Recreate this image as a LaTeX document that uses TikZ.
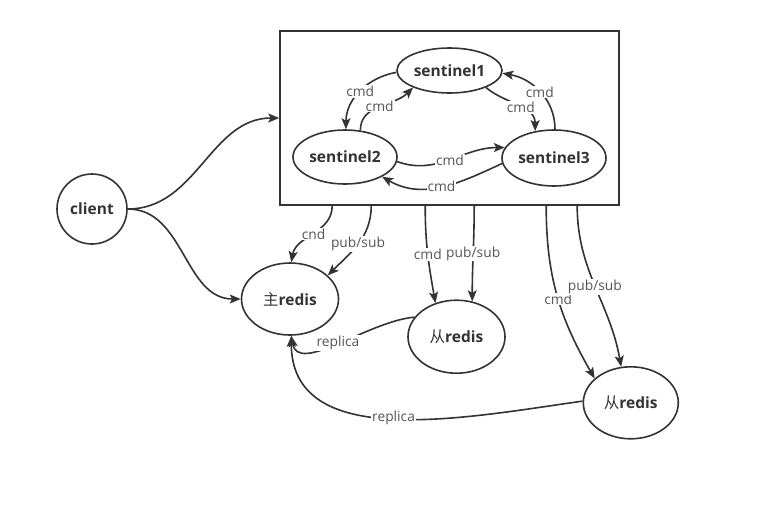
\documentclass[tikz,border=0pt]{standalone}
\usepackage{fontspec}
\setmainfont{Open Sans}
\newfontfamily\cjk{Noto Sans CJK SC}
\usetikzlibrary{arrows.meta,shapes.geometric,calc}
\definecolor{lc}{HTML}{333333}
\definecolor{labc}{HTML}{555555}
\begin{document}
\begin{tikzpicture}[x=1pt,y=1pt,
  ar/.style={draw=lc, line width=1.6pt, -{Stealth[length=11pt,width=9pt,inset=2.5pt]}},
  lab/.style={fill=white, text=labc, font=\fontsize{13.8}{15}\selectfont, inner sep=1pt},
  el/.style={ellipse, draw=lc, line width=1.6pt, inner sep=0pt, text=lc,
             font=\fontsize{15.5}{18}\selectfont\bfseries},
  frame/.style={draw=lc, line width=1.6pt, inner sep=0pt}]
\useasboundingbox (0,0) rectangle (771,-515);
\fill[white] (0,0) rectangle (771,-515);

\node[frame, minimum width=339pt, minimum height=174pt] (box) at (449.5,-118) {};
\node[el, minimum width=105pt, minimum height=45pt] (s1) at (449.5,-70.5) {sentinel1};
\node[el, minimum width=104pt, minimum height=54pt] (s2) at (345,-157) {sentinel2};
\node[el, minimum width=104pt, minimum height=56pt] (s3) at (554,-158) {sentinel3};
\node[el, circle, minimum size=70pt] (client) at (92,-209) {client};
\node[el, minimum width=97pt, minimum height=72pt] (mr) at (290,-299) {{\cjk\mdseries 主}redis};
\node[el, minimum width=97pt, minimum height=73pt] (r1) at (456.5,-336.7) {{\cjk\mdseries 从}redis};
\node[el, minimum width=95pt, minimum height=72pt] (r2) at (630.8,-402.8) {{\cjk\mdseries 从}redis};

\draw[ar] (client.east) to[out=0,in=180] (box.west);
\draw[ar] (client.east) to[out=0,in=180] (mr.west);

\draw[ar] (s1.182) to[out=190,in=90] node[lab]{cmd} (s2.88);
\draw[ar] (s2.60) to[out=90,in=225] node[lab]{cmd} (s1.205);
\draw[ar] (s1.-25) to[out=-40,in=90] node[lab,pos=.55]{cmd} (s3.125);
\draw[ar] (s3.88) to[out=90,in=-10] node[lab]{cmd} (s1.-3);
\draw[ar] (s2.-5) to[out=-20,in=180] node[lab]{cmd} (s3.168);
\draw[ar] (s3.186) to[out=205,in=-30] node[lab]{cmd} (s2.-28);

\draw[ar] ([xshift=53pt]box.south west) to[out=-90,in=80] node[lab]{cnd} (mr.88);
\draw[ar] ([xshift=92pt]box.south west) to[out=-90,in=45] node[lab]{pub/sub} (mr.32);
\draw[ar] ([xshift=146pt]box.south west) to[out=-90,in=100] node[lab]{cmd} (r1.122);
\draw[ar] ([xshift=195pt]box.south west) to[out=-90,in=90] node[lab]{pub/sub} (r1.66);
\draw[ar] ([xshift=267pt]box.south west) to[out=-90,in=120] node[lab,pos=.52]{cmd} (r2.146);
\draw[ar] ([xshift=298pt]box.south west) to[out=-90,in=100] node[lab]{pub/sub} (r2.105);

\draw[ar] (r1.155) .. controls +(185:47) and +(-80:40) .. node[lab]{replica} (mr.-88);
\draw[ar] (r2.178) to[out=188,in=-90] node[lab]{replica} (mr.-88);
\end{tikzpicture}
\end{document}
